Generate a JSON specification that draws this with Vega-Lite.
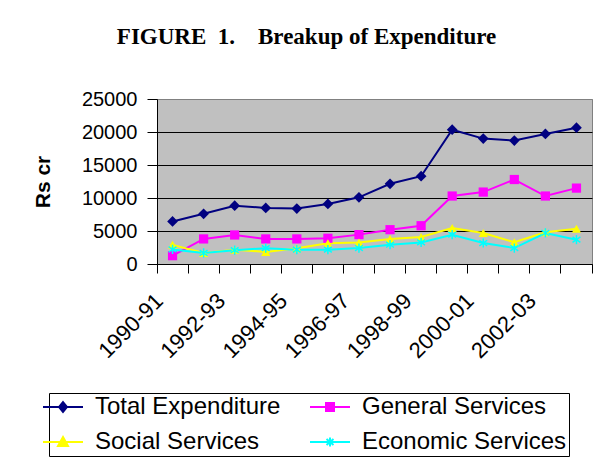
{
  "$schema": "https://vega.github.io/schema/vega-lite/v6.json",
  "width": 435,
  "height": 165,
  "autosize": {"type": "none"},
  "padding": {"left": 157, "top": 99, "right": 6, "bottom": 200},
  "background": "white",
  "title": {
    "text": "FIGURE\u00a0\u00a01.\u00a0\u00a0\u00a0\u00a0Breakup of Expenditure",
    "font": "Liberation Serif",
    "fontSize": 23,
    "fontWeight": "bold",
    "color": "black",
    "anchor": "middle",
    "frame": "group",
    "dx": -68,
    "offset": 22,
    "baseline": "alphabetic"
  },
  "data": {
    "values": [
      {"year": "1990-91", "series": "Total Expenditure", "value": 6450},
      {"year": "1991-92", "series": "Total Expenditure", "value": 7600},
      {"year": "1992-93", "series": "Total Expenditure", "value": 8830},
      {"year": "1993-94", "series": "Total Expenditure", "value": 8500},
      {"year": "1994-95", "series": "Total Expenditure", "value": 8400},
      {"year": "1995-96", "series": "Total Expenditure", "value": 9100},
      {"year": "1996-97", "series": "Total Expenditure", "value": 10100},
      {"year": "1997-98", "series": "Total Expenditure", "value": 12150},
      {"year": "1998-99", "series": "Total Expenditure", "value": 13300},
      {"year": "1999-00", "series": "Total Expenditure", "value": 20350},
      {"year": "2000-01", "series": "Total Expenditure", "value": 19000},
      {"year": "2001-02", "series": "Total Expenditure", "value": 18700},
      {"year": "2002-03", "series": "Total Expenditure", "value": 19700},
      {"year": "2003-04", "series": "Total Expenditure", "value": 20650},
      {"year": "1990-91", "series": "General Services", "value": 1260},
      {"year": "1991-92", "series": "General Services", "value": 3800},
      {"year": "1992-93", "series": "General Services", "value": 4400},
      {"year": "1993-94", "series": "General Services", "value": 3800},
      {"year": "1994-95", "series": "General Services", "value": 3800},
      {"year": "1995-96", "series": "General Services", "value": 3900},
      {"year": "1996-97", "series": "General Services", "value": 4450},
      {"year": "1997-98", "series": "General Services", "value": 5200},
      {"year": "1998-99", "series": "General Services", "value": 5800},
      {"year": "1999-00", "series": "General Services", "value": 10300},
      {"year": "2000-01", "series": "General Services", "value": 10900},
      {"year": "2001-02", "series": "General Services", "value": 12800},
      {"year": "2002-03", "series": "General Services", "value": 10300},
      {"year": "2003-04", "series": "General Services", "value": 11500},
      {"year": "1990-91", "series": "Social Services", "value": 2900},
      {"year": "1991-92", "series": "Social Services", "value": 1670},
      {"year": "1992-93", "series": "Social Services", "value": 2170},
      {"year": "1993-94", "series": "Social Services", "value": 1820},
      {"year": "1994-95", "series": "Social Services", "value": 2400},
      {"year": "1995-96", "series": "Social Services", "value": 3150},
      {"year": "1996-97", "series": "Social Services", "value": 3250},
      {"year": "1997-98", "series": "Social Services", "value": 3800},
      {"year": "1998-99", "series": "Social Services", "value": 4100},
      {"year": "1999-00", "series": "Social Services", "value": 5450},
      {"year": "2000-01", "series": "Social Services", "value": 4700},
      {"year": "2001-02", "series": "Social Services", "value": 3300},
      {"year": "2002-03", "series": "Social Services", "value": 4800},
      {"year": "2003-04", "series": "Social Services", "value": 5350},
      {"year": "1990-91", "series": "Economic Services", "value": 2200},
      {"year": "1991-92", "series": "Economic Services", "value": 1670},
      {"year": "1992-93", "series": "Economic Services", "value": 2100},
      {"year": "1993-94", "series": "Economic Services", "value": 2400},
      {"year": "1994-95", "series": "Economic Services", "value": 2170},
      {"year": "1995-96", "series": "Economic Services", "value": 2170},
      {"year": "1996-97", "series": "Economic Services", "value": 2420},
      {"year": "1997-98", "series": "Economic Services", "value": 2920},
      {"year": "1998-99", "series": "Economic Services", "value": 3270},
      {"year": "1999-00", "series": "Economic Services", "value": 4440},
      {"year": "2000-01", "series": "Economic Services", "value": 3180},
      {"year": "2001-02", "series": "Economic Services", "value": 2420},
      {"year": "2002-03", "series": "Economic Services", "value": 4700},
      {"year": "2003-04", "series": "Economic Services", "value": 3680}
    ]
  },
  "encoding": {
    "x": {
      "field": "year",
      "type": "ordinal",
      "bandPosition": 0.5,
      "scale": {"type": "band", "paddingInner": 0, "paddingOuter": 0},
      "axis": {
        "title": null,
        "bandPosition": 1,
        "tickExtra": true,
        "tickSize": 9,
        "tickColor": "black",
        "domainColor": "black",
        "labelAngle": -45,
        "labelAlign": "right",
        "labelBaseline": "middle",
        "labelOffset": -13,
        "labelPadding": 24,
        "labelFont": "Liberation Sans",
        "labelFontSize": 22,
        "labelColor": "black",
        "labelOverlap": false,
        "labelBound": false,
        "labelExpr": "indexof(['1990-91','1992-93','1994-95','1996-97','1998-99','2000-01','2002-03'], datum.value) >= 0 ? datum.label : ''",
        "grid": false
      }
    },
    "y": {
      "field": "value",
      "type": "quantitative",
      "scale": {"domain": [0, 25000], "nice": false},
      "axis": {
        "title": "Rs cr",
        "titleFont": "Liberation Sans",
        "titleFontSize": 21,
        "titleFontWeight": "bold",
        "titleColor": "black",
        "titlePadding": 28,
        "values": [0, 5000, 10000, 15000, 20000, 25000],
        "format": "d",
        "tickSize": 10,
        "tickColor": "black",
        "domainColor": "black",
        "labelFont": "Liberation Sans",
        "labelFontSize": 20,
        "labelColor": "black",
        "labelPadding": 10,
        "grid": true,
        "gridColor": {"condition": {"test": "datum.value == 25000", "value": "#808080"}, "value": "black"},
        "gridOpacity": 1
      }
    },
    "color": {
      "field": "series",
      "type": "nominal",
      "scale": {
        "domain": ["Total Expenditure", "General Services", "Social Services", "Economic Services"],
        "range": ["#000080", "#FF00FF", "#FFFF00", "#00FFFF"]
      },
      "legend": {
        "title": null,
        "orient": "none",
        "legendX": -108,
        "legendY": 294,
        "columns": 2,
        "direction": "horizontal",
        "symbolSize": 400,
        "labelFont": "Liberation Sans",
        "labelFontSize": 24,
        "labelColor": "black",
        "labelLimit": 400,
        "labelOffset": 20,
        "columnPadding": 25,
        "rowPadding": 11,
        "padding": 2,
        "strokeColor": "black",
        "fillColor": "white",
        "encode": {
          "symbols": {
            "update": {
              "shape": {"signal": "datum.value === 'Total Expenditure' ? 'M-2,0L2,0M0,-0.5L0.4,0L0,0.5L-0.4,0Z' : datum.value === 'General Services' ? 'M-2,0L2,0M-0.4,-0.4L0.4,-0.4L0.4,0.4L-0.4,0.4Z' : datum.value === 'Social Services' ? 'M-2,0L2,0M0,-0.5L0.5,0.4L-0.5,0.4Z' : 'M-2,0L2,0M0,-0.45L0,0.45M-0.35,-0.3L0.35,0.3M-0.35,0.3L0.35,-0.3'"},
              "stroke": {"signal": "datum.value === 'Total Expenditure' ? '#000080' : datum.value === 'General Services' ? '#FF00FF' : datum.value === 'Social Services' ? '#FFFF00' : '#00FFFF'"},
              "fill": {"signal": "datum.value === 'Total Expenditure' ? '#000080' : datum.value === 'General Services' ? '#FF00FF' : datum.value === 'Social Services' ? '#FFFF00' : '#00FFFF'"},
              "strokeWidth": {"value": 2},
              "opacity": {"value": 1},
              "fillOpacity": {"value": 1},
              "strokeOpacity": {"value": 1}
            }
          }
        }
      }
    }
  },
  "layer": [
    {
      "mark": {"type": "line", "strokeWidth": 2}
    },
    {
      "transform": [{"filter": "datum.series === 'Total Expenditure'"}],
      "mark": {"type": "point", "shape": "diamond", "filled": true, "size": 115, "opacity": 1}
    },
    {
      "transform": [{"filter": "datum.series === 'General Services'"}],
      "mark": {"type": "point", "shape": "square", "filled": true, "size": 85, "opacity": 1}
    },
    {
      "transform": [{"filter": "datum.series === 'Social Services'"}],
      "mark": {"type": "point", "shape": "triangle-up", "filled": true, "size": 85, "opacity": 1}
    },
    {
      "transform": [{"filter": "datum.series === 'Economic Services'"}],
      "mark": {"type": "point", "shape": "M0,-1L0,1M-0.85,-0.6L0.85,0.6M-0.85,0.6L0.85,-0.6", "filled": false, "size": 85, "opacity": 1, "strokeWidth": 1.5}
    }
  ],
  "config": {
    "view": {"fill": "#C0C0C0", "stroke": "#808080"},
    "axis": {"domainWidth": 1, "tickWidth": 1, "gridWidth": 1}
  }
}
